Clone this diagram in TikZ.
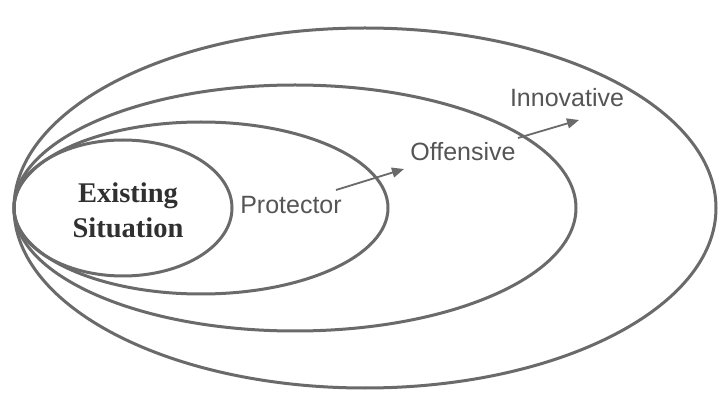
\documentclass[tikz,border=0pt]{standalone}
\usepackage{fontspec}
\setmainfont{Liberation Serif}
\setsansfont{Liberation Sans}
\usetikzlibrary{shapes.geometric,arrows.meta}
\definecolor{ringgray}{HTML}{6A6A6A}
\definecolor{labgray}{HTML}{555555}
\definecolor{darklab}{HTML}{303030}
\begin{document}
\begin{tikzpicture}[x=1pt,y=-1pt,
  ring/.style={draw=ringgray, line width=3pt, ellipse, inner sep=0pt, outer sep=0pt},
  stagelab/.style={font=\sffamily\fontsize{25}{28}\selectfont, text=labgray, inner sep=0pt},
  corelab/.style={font=\bfseries\fontsize{28.5}{35}\selectfont, text=darklab, align=center, inner sep=0pt},
  growarrow/.style={draw=ringgray, line width=1.8pt, -{Triangle[length=12pt,width=10pt]}}]
\useasboundingbox (0,0) rectangle (721,398);
\fill[white] (0,0) rectangle (721,398);
\node[ring, minimum width=702pt, minimum height=360pt] (e4) at (365,208) {};
\node[ring, minimum width=562pt, minimum height=246pt] (e3) at (295,208) {};
\node[ring, minimum width=374pt, minimum height=172pt] (e2) at (201,208) {};
\node[ring, minimum width=218pt, minimum height=136pt] (e1) at (123,208) {};
\node[corelab] (exist) at (128,210) {Existing\\Situation};
\node[stagelab] (prot) at (291,205) {Protector};
\node[stagelab] (off) at (463,152) {Offensive};
\node[stagelab] (inno) at (567,98) {Innovative};
\coordinate (a1s) at (336,190);
\coordinate (a1e) at (404,169);
\coordinate (a2s) at (518,138);
\coordinate (a2e) at (579,120);
\draw[growarrow] (a1s) -- (a1e);
\draw[growarrow] (a2s) -- (a2e);
\end{tikzpicture}
\end{document}
